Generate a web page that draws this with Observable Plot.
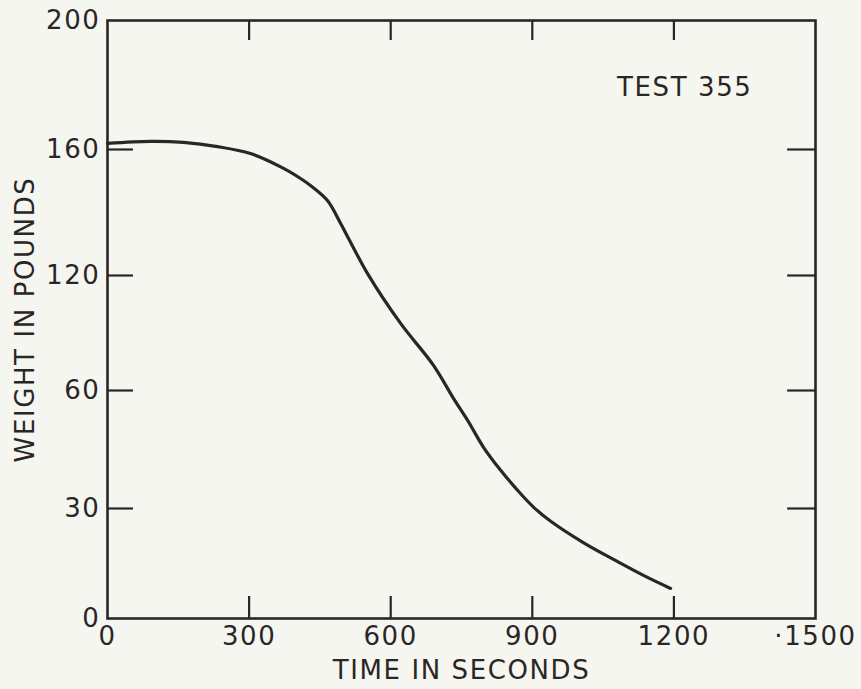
<!DOCTYPE html>
<html>
<head>
<meta charset="utf-8">
<script src="https://cdn.jsdelivr.net/npm/d3@7"></script>
<script src="https://cdn.jsdelivr.net/npm/@observablehq/plot@0.6"></script>
<style>
  html, body { margin: 0; padding: 0; background: #f6f6f0; }
  #chart svg { display: block; }
</style>
</head>
<body>
<div id="chart"></div>
<script>
// Data (TEST 355)
const timeSec  = [0, 91, 161, 233, 303, 373, 409, 430, 466, 494, 511, 551, 621, 691, 733, 763, 797, 833, 869, 903, 939, 1008, 1081, 1144, 1193];
const weightLb = [161.9, 162.5, 162.2, 160.9, 158.7, 154.0, 150.8, 148.6, 143.8, 136.5, 131.7, 120.6, 95.0, 73.0, 58.0, 52.4, 45.5, 39.7, 34.6, 30.3, 26.5, 20.7, 15.5, 11.2, 8.2];

// Axis ticks as printed on the chart
const timeTicks = [0, 300, 600, 900, 1200, 1500];
const timeTickLabels = ["0", "300", "600", "900", "1200", "·1500"];
const weightTicks = [0, 30, 60, 120, 160, 200];
const weightTickLabels = ["0", "30", "60", "120", "160", "200"];
// where each printed weight tick sits along the (unevenly labelled) axis, in axis units
const weightTickPos = [0, 110, 228, 343, 469, 598];
const innerTimeTicks = [300, 600, 900, 1200];
const innerWeightTicks = [30, 60, 120, 160];

const testLabel = "TEST 355";
const xLabel = "TIME IN SECONDS";
const yLabel = "WEIGHT IN POUNDS";

const ink = "#2a2626";
// piecewise mapping from printed weight values to axis position
const wPos = d3.scaleLinear().domain(weightTicks).range(weightTickPos);
const data = timeSec.map((t, i) => ({t, w: weightLb[i]}));

const chart = Plot.plot({
  width: 861,
  height: 689,
  marginLeft: 107,
  marginRight: 46,
  marginTop: 20,
  marginBottom: 71,
  style: {background: "#f6f6f0", color: ink, fontFamily: "DejaVu Sans, sans-serif", fontSize: "26px", letterSpacing: "1.6px"},
  x: {
    domain: [0, 1500],
    ticks: timeTicks,
    tickFormat: d => timeTickLabels[timeTicks.indexOf(d)],
    tickSize: 0,
    tickPadding: 8,
    label: xLabel,
    labelArrow: false,
    labelAnchor: "center",
    labelOffset: 60
  },
  y: {
    domain: [weightTickPos[0], weightTickPos[weightTickPos.length - 1]],
    ticks: weightTickPos,
    tickFormat: d => weightTickLabels[weightTickPos.indexOf(d)],
    tickSize: 0,
    tickPadding: 7,
    label: yLabel,
    labelArrow: false,
    labelAnchor: "center",
    labelOffset: 92
  },
  marks: [
    Plot.frame({stroke: ink, strokeWidth: 2.6}),
    Plot.ruleY(innerWeightTicks, {y: d => wPos(d), x1: 0, x2: 55, stroke: ink, strokeWidth: 2.2}),
    Plot.ruleY(innerWeightTicks, {y: d => wPos(d), x1: 1441, x2: 1500, stroke: ink, strokeWidth: 2.2}),
    Plot.ruleX(innerTimeTicks, {x: d => d, y1: 0, y2: 22, stroke: ink, strokeWidth: 2.2}),
    Plot.ruleX(innerTimeTicks, {x: d => d, y1: 578, y2: 598, stroke: ink, strokeWidth: 2.2}),
    Plot.line(data, {x: "t", y: d => wPos(d.w), stroke: ink, strokeWidth: 3.2, curve: "catmull-rom"}),
    Plot.text([testLabel], {frameAnchor: "top-right", text: d => d, textAnchor: "end", lineAnchor: "middle", dx: -63, dy: 67, fill: ink, fontSize: 26, letterSpacing: "2.6px"})
  ]
});
document.getElementById("chart").appendChild(chart);
</script>
</body>
</html>
